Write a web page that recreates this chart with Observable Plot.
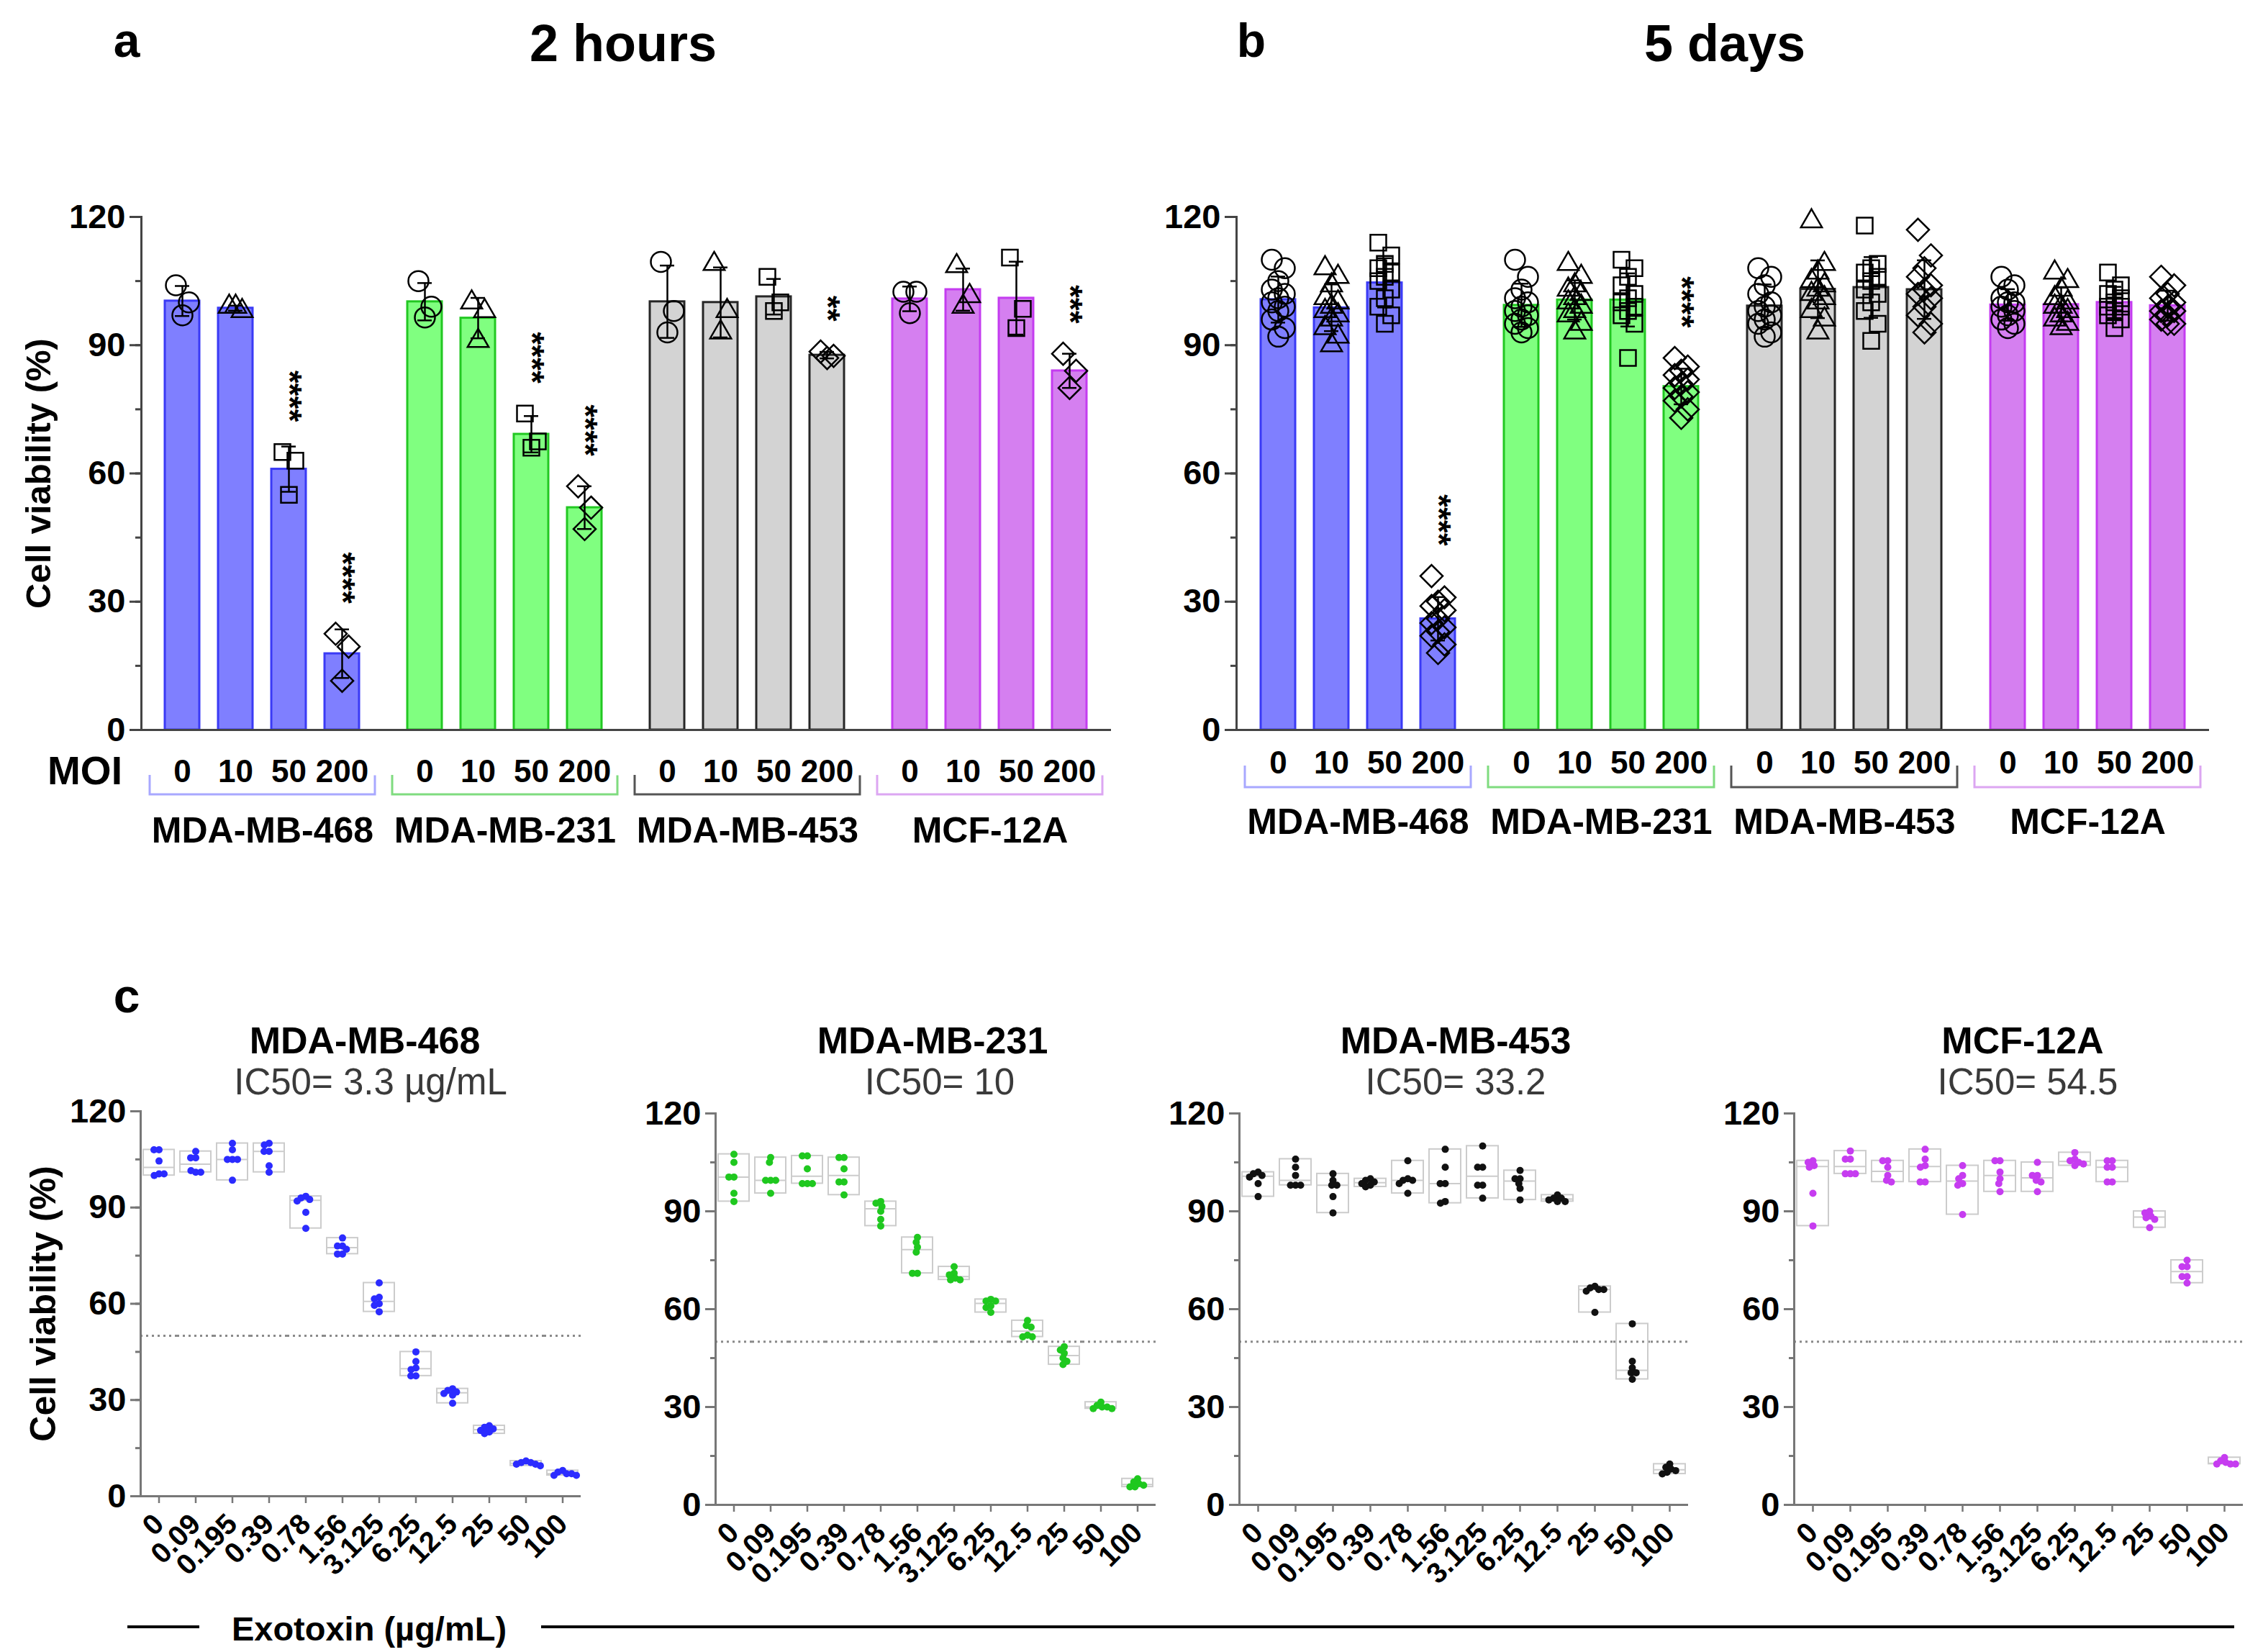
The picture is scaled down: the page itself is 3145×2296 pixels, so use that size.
<!DOCTYPE html>
<html>
<head>
<meta charset="utf-8">
<script src="https://cdn.jsdelivr.net/npm/d3@7"></script>
<script src="https://cdn.jsdelivr.net/npm/@observablehq/plot@0.6"></script>
<style>
  body { margin: 0; background: #fff; font-family: "Liberation Sans", Arial, sans-serif; }
  #page { position: relative; width: 3145px; height: 2296px; overflow: hidden; background: #fff; }
  .lbl { position: absolute; transform: translate(-50%, -50%); white-space: nowrap; line-height: 1; color: #000; }
  .hline { position: absolute; background: #000; }
</style>
</head>
<body>
<div id="page"></div>
<script>
// ---------------- DATA ----------------
const cellLines = ["MDA-MB-468", "MDA-MB-231", "MDA-MB-453", "MCF-12A"];
const moiLevels = ["0", "10", "50", "200"];
const moiSymbols = ["circle", "triangle2", "square2", "diamond2"];
const barFills = ["#7f7fff", "#80ff80", "#d3d3d3", "#d57ff0"];
const barStrokes = ["#3a3af5", "#22c822", "#262626", "#c43cf0"];
const bracketColors = ["#a8a8ff", "#7fdc7f", "#555555", "#dca6f2"];

// Panel a (2 hours): replicate viabilities (%) per MOI 0, 10, 50, 200
const hours2_MDA468 = [[104, 100, 97], [99, 98, 99], [65, 63, 55], [22.5, 19.5, 11.5]];
const hours2_MDA231 = [[105, 99, 96.5], [100, 98, 91], [74, 67.5, 66], [57, 52, 47]];
const hours2_MDA453 = [[109.5, 98, 93], [109, 98, 93], [106, 100, 98], [88.5, 87.5, 87]];
const hours2_MCF12A = [[102.5, 102.5, 97.5], [108.5, 101.5, 99], [110.5, 98.5, 94], [88, 84, 80]];

// Panel b (5 days)
const days5_MDA468 = [
  [110, 108, 105, 103, 102, 101, 100, 99, 98, 96, 94, 92],
  [108, 106, 104, 101, 100, 99, 98, 97, 96, 94, 92, 90],
  [114, 111, 109, 108, 107, 106, 105, 103, 101, 99, 97, 95],
  [36, 31, 30, 29, 28, 26, 25, 24, 23, 22, 20, 18]];
const days5_MDA231 = [
  [110, 106, 103, 101, 100, 99, 98, 97, 96, 95, 94, 93],
  [109, 106, 104, 103, 102, 101, 100, 99, 98, 97, 95, 93],
  [110, 108, 106, 104, 102, 101, 100, 99, 98, 97, 95, 87],
  [87, 85, 84, 83, 82, 81, 80, 79, 78, 77, 75, 73]];
const days5_MDA453 = [
  [108, 106, 104, 102, 100, 99, 98, 97, 96, 95, 93, 92],
  [119, 109, 107, 105, 104, 103, 102, 101, 100, 98, 96, 93],
  [118, 109, 108, 107, 106, 105, 103, 102, 100, 98, 95, 91],
  [117, 111, 108, 106, 104, 103, 102, 101, 99, 97, 95, 93]];
const days5_MCF12A = [
  [106, 104, 103, 101, 100, 100, 99, 98, 97, 96, 95, 94],
  [107, 105, 103, 101, 100, 99, 99, 98, 97, 96, 95, 94],
  [107, 104, 103, 102, 101, 100, 99, 99, 98, 97, 96, 94],
  [106, 104, 102, 101, 100, 99, 98, 98, 97, 96, 95, 95]];

const starsHours2 = [
  {line: "MDA-MB-468", moi: "50", label: "****"},
  {line: "MDA-MB-468", moi: "200", label: "****"},
  {line: "MDA-MB-231", moi: "50", label: "****"},
  {line: "MDA-MB-231", moi: "200", label: "****"},
  {line: "MDA-MB-453", moi: "200", label: "**"},
  {line: "MCF-12A", moi: "200", label: "***"}];
const starsDays5 = [
  {line: "MDA-MB-468", moi: "200", label: "****"},
  {line: "MDA-MB-231", moi: "200", label: "****"}];

// Panel c: exotoxin dose response
const exotoxinConc = ["0", "0.09", "0.195", "0.39", "0.78", "1.56", "3.125", "6.25", "12.5", "25", "50", "100"];
const exo_MDA468 = [
  [108, 108, 104.5, 100.5, 100, 100.5], [107.5, 105.5, 105.5, 101, 101.5, 101],
  [110, 108, 105, 105, 105, 98.5], [110, 109.5, 107.5, 107.5, 103, 101],
  [93.5, 93, 92.5, 92, 88.5, 83.5], [80.5, 78, 78, 77, 75.5, 75.5],
  [66.5, 62, 61.5, 60, 59.5, 57.5], [45, 42, 40, 39.5, 37.5, 37.5],
  [33.5, 33, 32.5, 32, 31.5, 29], [22, 21.5, 21, 20.5, 20, 19.5],
  [11, 10.5, 10.5, 10, 10, 9.5], [8, 7.5, 7, 7, 6.5, 6.5]];
const exo_MDA231 = [
  [107.5, 105, 100.5, 100.5, 95.5, 93], [106.5, 105, 99.5, 99.5, 99.5, 95.5],
  [107, 107, 103, 98.5, 98.5, 98.5], [106.5, 106.5, 103, 99, 99, 95],
  [93, 92.5, 91.5, 90, 87.5, 85.5], [82, 80.5, 79, 77.5, 71, 71],
  [73, 71, 70.5, 69.5, 69, 69], [63, 62.5, 62.5, 61, 60.5, 59],
  [56.5, 55, 54.5, 52, 51.5, 51.5], [48.5, 47.5, 46.5, 45, 44, 43],
  [31.5, 30.5, 30, 30, 29.5, 29.5], [8, 7, 6.5, 6, 5.5, 5.5]];
const exo_MDA453 = [
  [102, 101.5, 101, 100.5, 98.5, 94.5], [106, 103.5, 101, 98, 98, 98],
  [101.5, 99.5, 98, 98, 94.5, 89.5], [100, 99.5, 99, 98.5, 98, 97.5],
  [105.5, 100, 99.5, 99.5, 98.5, 95.5], [109, 103.5, 98.5, 98.5, 93, 92.5],
  [110, 103.5, 103.5, 98, 98, 94], [102.5, 100, 100, 98.5, 97, 93.5],
  [95, 94, 94, 93.5, 93, 93], [67, 66.5, 66, 66, 65.5, 59],
  [55.5, 44, 42, 40.5, 40.5, 38.5], [12.5, 11.5, 11, 10.5, 10, 9.5]];
const exo_MCF12A = [
  [105.5, 105, 104, 103.5, 95.5, 85.5], [108.5, 106, 106, 101.5, 101.5, 101.5],
  [105.5, 105.5, 103.5, 101, 99.5, 99], [109, 106, 104, 103.5, 99, 99],
  [104, 101, 100, 98.5, 98, 89], [105.5, 105.5, 102, 100, 98.5, 96],
  [105, 101, 101, 99.5, 99, 96], [108, 106, 105.5, 105, 104.5, 104],
  [105.5, 105.5, 103.5, 103.5, 99, 99], [90, 89.5, 88.5, 88, 87.5, 85],
  [75, 73, 73, 70, 70, 68], [14.5, 13.5, 13, 12.5, 12.5, 12.5]];
const exoColors = ["#2b2bff", "#1fc81f", "#111111", "#c63cf0"];
const ic50Labels = ["IC50= 3.3 µg/mL", "IC50= 10", "IC50= 33.2", "IC50= 54.5"];

// ---------------- HELPERS ----------------
const page = document.getElementById("page");
const FONT = "'Liberation Sans', Arial, sans-serif";

function label(text, x, y, size, weight = "bold", color = "#000") {
  const d = document.createElement("div");
  d.className = "lbl";
  d.textContent = text;
  Object.assign(d.style, {left: x + "px", top: y + "px", fontSize: size + "px", fontWeight: weight, color});
  page.appendChild(d);
}
function hline(x1, x2, y, w) {
  const d = document.createElement("div");
  d.className = "hline";
  Object.assign(d.style, {left: x1 + "px", top: (y - w / 2) + "px", width: (x2 - x1) + "px", height: w + "px"});
  page.appendChild(d);
}
function place(svg, left, top) {
  Object.assign(svg.style, {position: "absolute", left: left + "px", top: top + "px"});
  page.appendChild(svg);
}

function tidyBars(sets) {
  const rows = [];
  sets.forEach((set, gi) => set.forEach((vals, mi) => vals.forEach((v, rep) => rows.push({
    line: cellLines[gi], moi: moiLevels[mi], v, rep,
    fill: barFills[gi], stroke: barStrokes[gi]
  }))));
  return rows;
}

const meanPlusSd = v => d3.mean(v) + d3.deviation(v);
const meanMinusSd = v => d3.mean(v) - d3.deviation(v);

function barPanel({sets, stars, width, height, mL, mR, mT, mB, moiPad, linePad, brTop, brBot, yLabel}) {
  const data = tidyBars(sets);
  const groups = cellLines.map((line, i) => ({line, bracket: bracketColors[i]}));
  const starData = stars.map(s => ({...s, top: d3.max(data.filter(d => d.line === s.line && d.moi === s.moi), d => d.v)}));
  const fw = (width - mL - mR) / cellLines.length;
  const bw = fw - 24, bh = brBot - brTop;
  const offsets = [-9, 9, 0];
  return Plot.plot({
    width, height, marginLeft: mL, marginRight: mR, marginTop: mT, marginBottom: mB,
    style: {background: "transparent", overflow: "visible", maxWidth: "none", fontFamily: FONT, color: "#000"},
    fx: {domain: cellLines, padding: 0, axis: null},
    x: {domain: moiLevels, paddingInner: 0.35, paddingOuter: 0.45, axis: null},
    y: {domain: [0, 120], axis: null},
    color: {type: "identity"},
    symbol: {domain: moiLevels, range: moiSymbols},
    marks: [
      Plot.barY(data, Plot.groupX({y: "mean"}, {fx: "line", x: "moi", y: "v", fill: "fill", stroke: "stroke", strokeWidth: 3})),
      Plot.ruleX(data, Plot.groupX({y1: meanMinusSd, y2: meanPlusSd}, {fx: "line", x: "moi", y1: "v", y2: "v", stroke: "#000", strokeWidth: 2.5})),
      Plot.tickY(data, Plot.groupX({y: meanPlusSd}, {fx: "line", x: "moi", y: "v", stroke: "#000", strokeWidth: 2.5, insetLeft: 14, insetRight: 14})),
      Plot.tickY(data, Plot.groupX({y: meanMinusSd}, {fx: "line", x: "moi", y: "v", stroke: "#000", strokeWidth: 2.5, insetLeft: 14, insetRight: 14})),
      ...offsets.map((dx, k) => Plot.dot(data.filter(d => d.rep % 3 === k), {
        fx: "line", x: "moi", y: "v", symbol: "moi", r: 14, fill: "none", stroke: "#000", strokeWidth: 2.5, dx
      })),
      Plot.text(starData, {fx: "line", x: "moi", y: "top", text: "label", rotate: 90, textAnchor: "end", dy: -42, fontSize: 46, fontWeight: "bold"}),
      Plot.ruleY([0], {stroke: "#444", strokeWidth: 3}),
      Plot.frame({anchor: "left", facetAnchor: "left", stroke: "#444", strokeWidth: 3}),
      Plot.axisY({ticks: d3.range(0, 121, 15), tickSize: 8, tickFormat: () => "", label: null, stroke: "#444", strokeWidth: 3}),
      Plot.axisY({ticks: [0, 30, 60, 90, 120], tickSize: 16, tickPadding: 6, fontSize: 47, fontWeight: "bold", label: null, stroke: "#444", strokeWidth: 3}),
      Plot.axisX({tickSize: 0, tickPadding: moiPad, fontSize: 44, fontWeight: "bold", label: null}),
      Plot.axisFx({anchor: "bottom", tickSize: 0, tickPadding: linePad, fontSize: 50, fontWeight: "bold", label: null}),
      Plot.barY(groups, {fx: "line", y1: 0, y2: 0, insetTop: brTop, insetBottom: -brBot, insetLeft: 12, insetRight: 12,
        fill: "none", stroke: "bracket", strokeWidth: 3, strokeDasharray: `0 ${bw} ${bw + 2 * bh}`}),
      yLabel ? Plot.text([yLabel], {text: d => d, frameAnchor: "left", textAnchor: "middle", rotate: -90, dx: -142, fontSize: 49, fontWeight: "bold", facetAnchor: "left"}) : null
    ]
  });
}

function dosePanel({vals, color, width, height, mL, mR, mT, mB, yLabel}) {
  const data = exotoxinConc.flatMap((c, i) => vals[i].map(v => ({conc: c, v})));
  return Plot.plot({
    width, height, marginLeft: mL, marginRight: mR, marginTop: mT, marginBottom: mB,
    style: {background: "transparent", overflow: "visible", maxWidth: "none", fontFamily: FONT, color: "#000"},
    fx: {domain: exotoxinConc, padding: 0, axis: null},
    y: {domain: [0, 120], axis: null},
    marks: [
      Plot.ruleY([50], {stroke: "#8a8a8a", strokeWidth: 3, strokeDasharray: "3 5"}),
      Plot.barY(data, Plot.groupZ({y1: "min", y2: "max"}, {fx: "conc", y1: "v", y2: "v", fill: "none", stroke: "#cccccc", strokeWidth: 2, insetLeft: 4, insetRight: 4})),
      Plot.ruleY(data, Plot.groupZ({y: "median"}, {fx: "conc", y: "v", stroke: "#cccccc", strokeWidth: 2, insetLeft: 4, insetRight: 4})),
      Plot.dot(data, Plot.dodgeX({anchor: "middle", padding: -3}, {fx: "conc", y: "v", r: 5, fill: color})),
      Plot.ruleY([0], {stroke: "#777", strokeWidth: 3}),
      Plot.frame({anchor: "left", facetAnchor: "left", stroke: "#777", strokeWidth: 3}),
      Plot.axisY({ticks: d3.range(0, 121, 15), tickSize: 7, tickFormat: () => "", label: null, stroke: "#777", strokeWidth: 3}),
      Plot.axisY({ticks: [0, 30, 60, 90, 120], tickSize: 14, tickPadding: 6, fontSize: 47, fontWeight: "bold", label: null, stroke: "#777", strokeWidth: 3}),
      Plot.axisFx({anchor: "bottom", tickSize: 10, tickPadding: 22, tickRotate: -45, fontSize: 40, fontWeight: "bold", label: null, stroke: "#777", strokeWidth: 2.5}),
      yLabel ? Plot.text([yLabel], {text: d => d, frameAnchor: "left", textAnchor: "middle", rotate: -90, dx: -135, fontSize: 50, fontWeight: "bold", facetAnchor: "left"}) : null
    ]
  });
}

// ---------------- PANELS a & b ----------------
place(barPanel({
  sets: [hours2_MDA468, hours2_MDA231, hours2_MDA453, hours2_MCF12A], stars: starsHours2,
  width: 1560, height: 950, mL: 195, mR: 15, mT: 51, mB: 186,
  moiPad: 41, linePad: 121, brTop: 63, brBot: 90, yLabel: "Cell viability (%)"
}), 0, 250);

place(barPanel({
  sets: [days5_MDA468, days5_MDA231, days5_MDA453, days5_MCF12A], stars: starsDays5,
  width: 1585, height: 950, mL: 158, mR: 75, mT: 51, mB: 186,
  moiPad: 29, linePad: 109, brTop: 50, brBot: 80, yLabel: null
}), 1560, 250);

label("a", 176, 56, 66);
label("2 hours", 866, 60, 72);
label("b", 1739, 56, 66);
label("5 days", 2397, 60, 72);
label("MOI", 118, 1071, 55);

// ---------------- PANEL c ----------------
const doseSets = [exo_MDA468, exo_MDA231, exo_MDA453, exo_MCF12A];
const doseLayout = [
  {left: 0, width: 830, mL: 191, mR: 19, mT: 44, mB: 141, title: 507, sub: 515},
  {left: 830, width: 800, mL: 158, mR: 19, mT: 47, mB: 129, title: 1296, sub: 1306},
  {left: 1630, width: 740, mL: 89, mR: 21, mT: 47, mB: 129, title: 2023, sub: 2023},
  {left: 2370, width: 775, mL: 120, mR: 26, mT: 47, mB: 129, title: 2811, sub: 2818}
];
doseSets.forEach((vals, i) => {
  const L = doseLayout[i];
  place(dosePanel({
    vals, color: exoColors[i], width: L.width, height: 720, mL: L.mL, mR: L.mR, mT: L.mT, mB: L.mB,
    yLabel: i === 0 ? "Cell viability (%)" : null
  }), L.left, 1500);
  label(cellLines[i], L.title, 1446, 52);
  label(ic50Labels[i], L.sub, 1503, 51, "normal", "#3a3a3a");
});

label("c", 176, 1384, 66);

// footer
hline(177, 277, 2261, 4);
label("Exotoxin (µg/mL)", 513, 2263, 47);
hline(752, 3105, 2261, 4);
</script>
</body>
</html>
